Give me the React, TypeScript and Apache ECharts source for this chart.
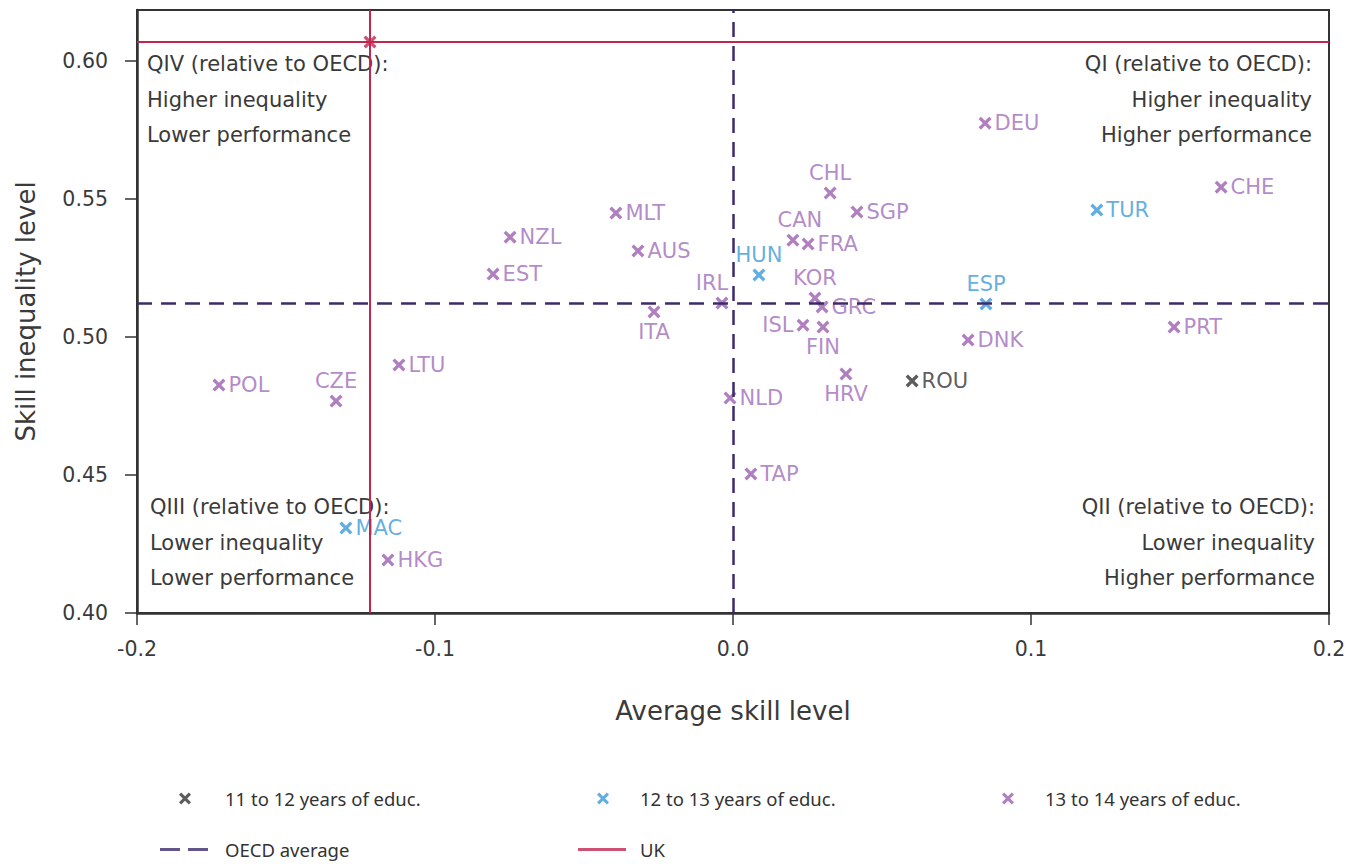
import React, { useEffect, useRef } from "react";
import * as echarts from "echarts";

// ---- data ----
const group1Names = ["ROU"];
const group1X = [0.0601];
const group1Y = [0.4841];

const group2Names = ["HUN", "ESP", "TUR", "MAC"];
const group2X = [0.0087, 0.0849, 0.1221, -0.1299];
const group2Y = [0.5225, 0.512, 0.546, 0.4308];

const group3Names = ["DEU", "CHL", "SGP", "CHE", "MLT", "NZL", "AUS", "EST", "CAN", "FRA", "KOR", "GRC", "IRL", "ITA", "ISL", "FIN", "DNK", "PRT", "HRV", "NLD", "TAP", "LTU", "POL", "CZE", "HKG"];
const group3X = [0.0846, 0.0326, 0.0416, 0.1638, -0.0393, -0.0748, -0.0319, -0.0805, 0.0201, 0.0252, 0.0275, 0.0299, -0.0037, -0.0265, 0.0235, 0.0302, 0.0789, 0.148, 0.0379, -0.001, 0.006, -0.1121, -0.1725, -0.1332, -0.1158];
const group3Y = [0.5775, 0.5522, 0.5453, 0.5543, 0.5449, 0.5362, 0.5312, 0.5228, 0.5351, 0.5337, 0.5141, 0.5109, 0.5123, 0.5091, 0.5043, 0.5036, 0.4989, 0.5036, 0.4866, 0.4779, 0.4504, 0.4899, 0.4826, 0.4768, 0.4192];

const oecdAverage = [0.0, 0.5123];
const ukPoint = [-0.1218, 0.6069];

const xTicks = [-0.2, -0.1, 0.0, 0.1, 0.2];
const yTicks = [0.4, 0.45, 0.5, 0.55, 0.6];

const seriesNames = ["11 to 12 years of educ.", "12 to 13 years of educ.", "13 to 14 years of educ.", "OECD average", "UK"];

const quadrantTexts = {
  q4: ["QIV (relative to OECD):", "Higher inequality", "Lower performance"],
  q1: ["QI (relative to OECD):", "Higher inequality", "Higher performance"],
  q3: ["QIII (relative to OECD):", "Lower inequality", "Lower performance"],
  q2: ["QII (relative to OECD):", "Lower inequality", "Higher performance"],
};

// ---- styles ----
const FONT = "DejaVu Sans";
const LEGEND_FONT = "Noto Sans";
const C_TEXT = "#3a3a3a";
const C_BLACK = "#333333";
const C_BLUE = "#3b9ad8";
const C_PURPLE = "#9b5fb0";
const C_LABEL_PURPLE = "#a06cba";
const C_OECD = "#3d2a6b";
const C_UK = "#c1264f";
const X_PATH = "path://M0,1.8L1.8,0L5,3.2L8.2,0L10,1.8L6.8,5L10,8.2L8.2,10L5,6.8L1.8,10L0,8.2L3.2,5Z";

const labelPos: Record<string, any> = {
  CHL: { position: "top" },
  CAN: { position: "top", offset: [7, 0] },
  HUN: { position: "top" },
  KOR: { position: "top" },
  ESP: { position: "top" },
  CZE: { position: "top" },
  IRL: { position: "top", offset: [-10, 0] },
  ITA: { position: "bottom" },
  FIN: { position: "bottom" },
  HRV: { position: "bottom" },
  ISL: { position: "left" },
};

function buildData(names: string[], xs: number[], ys: number[]) {
  return names.map((n, i) => {
    const item: any = { name: n, value: [xs[i], ys[i]] };
    if (labelPos[n]) item.label = { ...labelPos[n] };
    return item;
  });
}

function scatter(name: string, color: string, labelColor: string, data: any[]) {
  return {
    name,
    type: "scatter",
    symbol: X_PATH,
    symbolSize: 13,
    itemStyle: { color },
    label: {
      show: true,
      position: "right",
      distance: 3,
      formatter: "{b}",
      color: labelColor,
      fontFamily: FONT,
      fontSize: 21,
    },
    data,
    z: 3,
  };
}

function quadText(lines: string[], x: number, ys: number[], align: string) {
  return lines.map((t, i) => ({
    type: "text",
    x,
    y: ys[i],
    style: {
      text: t,
      fill: C_TEXT,
      fontFamily: FONT,
      fontSize: 21,
      align,
      verticalAlign: "middle",
    },
    silent: true,
  }));
}

export default function App() {
  const ref = useRef<HTMLDivElement>(null);
  useEffect(() => {
    if (!ref.current) return;
    const chart = echarts.init(ref.current, null, { renderer: "svg" });
    const legendText = (pad: number) => ({
      fontFamily: LEGEND_FONT,
      fontSize: 18.5,
      color: "#333333",
      padding: [0, 0, 0, pad],
    });
    const option: any = {
      animation: false,
      backgroundColor: "#ffffff",
      grid: {
        left: 137,
        right: 30,
        top: 10,
        bottom: 251,
        containLabel: false,
        outerBoundsMode: "none",
        show: true,
        borderColor: "#333333",
        borderWidth: 2,
        backgroundColor: "transparent",
      },
      xAxis: {
        type: "value",
        min: -0.2,
        max: 0.2,
        name: "Average skill level",
        nameLocation: "middle",
        nameGap: 85,
        nameTextStyle: { fontFamily: FONT, fontSize: 26, color: C_TEXT },
        splitLine: { show: false },
        axisLine: { show: true, onZero: false, lineStyle: { color: "#333333", width: 2.5 } },
        axisTick: { show: true, length: 12, customValues: xTicks, lineStyle: { color: "#333333", width: 1.5 } },
        axisLabel: {
          customValues: xTicks,
          margin: 25,
          fontFamily: FONT,
          fontSize: 20.5,
          color: C_TEXT,
          formatter: (v: number) => v.toFixed(1),
        },
      },
      yAxis: {
        type: "value",
        min: 0.4,
        max: 0.6185,
        name: "Skill inequality level",
        nameLocation: "middle",
        nameGap: 98,
        nameTextStyle: { fontFamily: FONT, fontSize: 26, color: C_TEXT },
        splitLine: { show: false },
        axisLine: { show: true, onZero: false, lineStyle: { color: "#333333", width: 2.5 } },
        axisTick: { show: true, length: 12, customValues: yTicks, lineStyle: { color: "#333333", width: 1.5 } },
        axisLabel: {
          customValues: yTicks,
          margin: 29,
          fontFamily: FONT,
          fontSize: 20.5,
          color: C_TEXT,
          formatter: (v: number) => v.toFixed(2),
        },
      },
      legend: [
        { left: 179, top: 789, padding: 0, data: [seriesNames[0]], icon: X_PATH, itemWidth: 12, itemHeight: 12, selectedMode: false, textStyle: legendText(29) },
        { left: 597, top: 789, padding: 0, data: [seriesNames[1]], icon: X_PATH, itemWidth: 12, itemHeight: 12, selectedMode: false, textStyle: legendText(26) },
        { left: 1002, top: 789, padding: 0, data: [seriesNames[2]], icon: X_PATH, itemWidth: 12, itemHeight: 12, selectedMode: false, textStyle: legendText(26) },
        { left: 160, top: 840, padding: 0, data: [seriesNames[3]], icon: "path://M0,0H20V3H0Z M28,0H48V3H28Z", itemWidth: 48, itemHeight: 3, selectedMode: false, textStyle: legendText(12) },
        { left: 578, top: 840, padding: 0, data: [seriesNames[4]], icon: "path://M0,0H48V3H0Z", itemWidth: 48, itemHeight: 3, selectedMode: false, textStyle: legendText(9) },
      ],
      series: [
        scatter(seriesNames[0], C_BLACK, C_BLACK, buildData(group1Names, group1X, group1Y)),
        scatter(seriesNames[1], C_BLUE, C_BLUE, buildData(group2Names, group2X, group2Y)),
        scatter(seriesNames[2], C_PURPLE, C_LABEL_PURPLE, buildData(group3Names, group3X, group3Y)),
        {
          name: seriesNames[3],
          type: "scatter",
          data: [],
          itemStyle: { color: C_OECD },
          markLine: {
            silent: true,
            symbol: "none",
            precision: 6,
            label: { show: false },
            lineStyle: { color: C_OECD, width: 2.5, type: [15, 9] },
            data: [{ xAxis: oecdAverage[0] }, { yAxis: oecdAverage[1] }],
          },
          z: 2,
        },
        {
          name: seriesNames[4],
          type: "scatter",
          symbol: X_PATH,
          symbolSize: 13,
          itemStyle: { color: C_UK },
          data: [{ name: "UK", value: ukPoint }],
          markLine: {
            silent: true,
            symbol: "none",
            precision: 6,
            label: { show: false },
            lineStyle: { color: C_UK, width: 2, type: "solid" },
            data: [{ xAxis: ukPoint[0] }, { yAxis: ukPoint[1] }],
          },
          z: 2,
        },
      ],
      graphic: [
        ...quadText(quadrantTexts.q4, 147, [64, 100, 135], "left"),
        ...quadText(quadrantTexts.q1, 1312, [64, 100, 135], "right"),
        ...quadText(quadrantTexts.q3, 150, [507, 543, 578], "left"),
        ...quadText(quadrantTexts.q2, 1315, [507, 543, 578], "right"),
      ],
    };
    chart.setOption(option);
    return () => chart.dispose();
  }, []);
  return <div ref={ref} style={{ position: "fixed", left: 0, top: 0, width: 1359, height: 864 }} />;
}
